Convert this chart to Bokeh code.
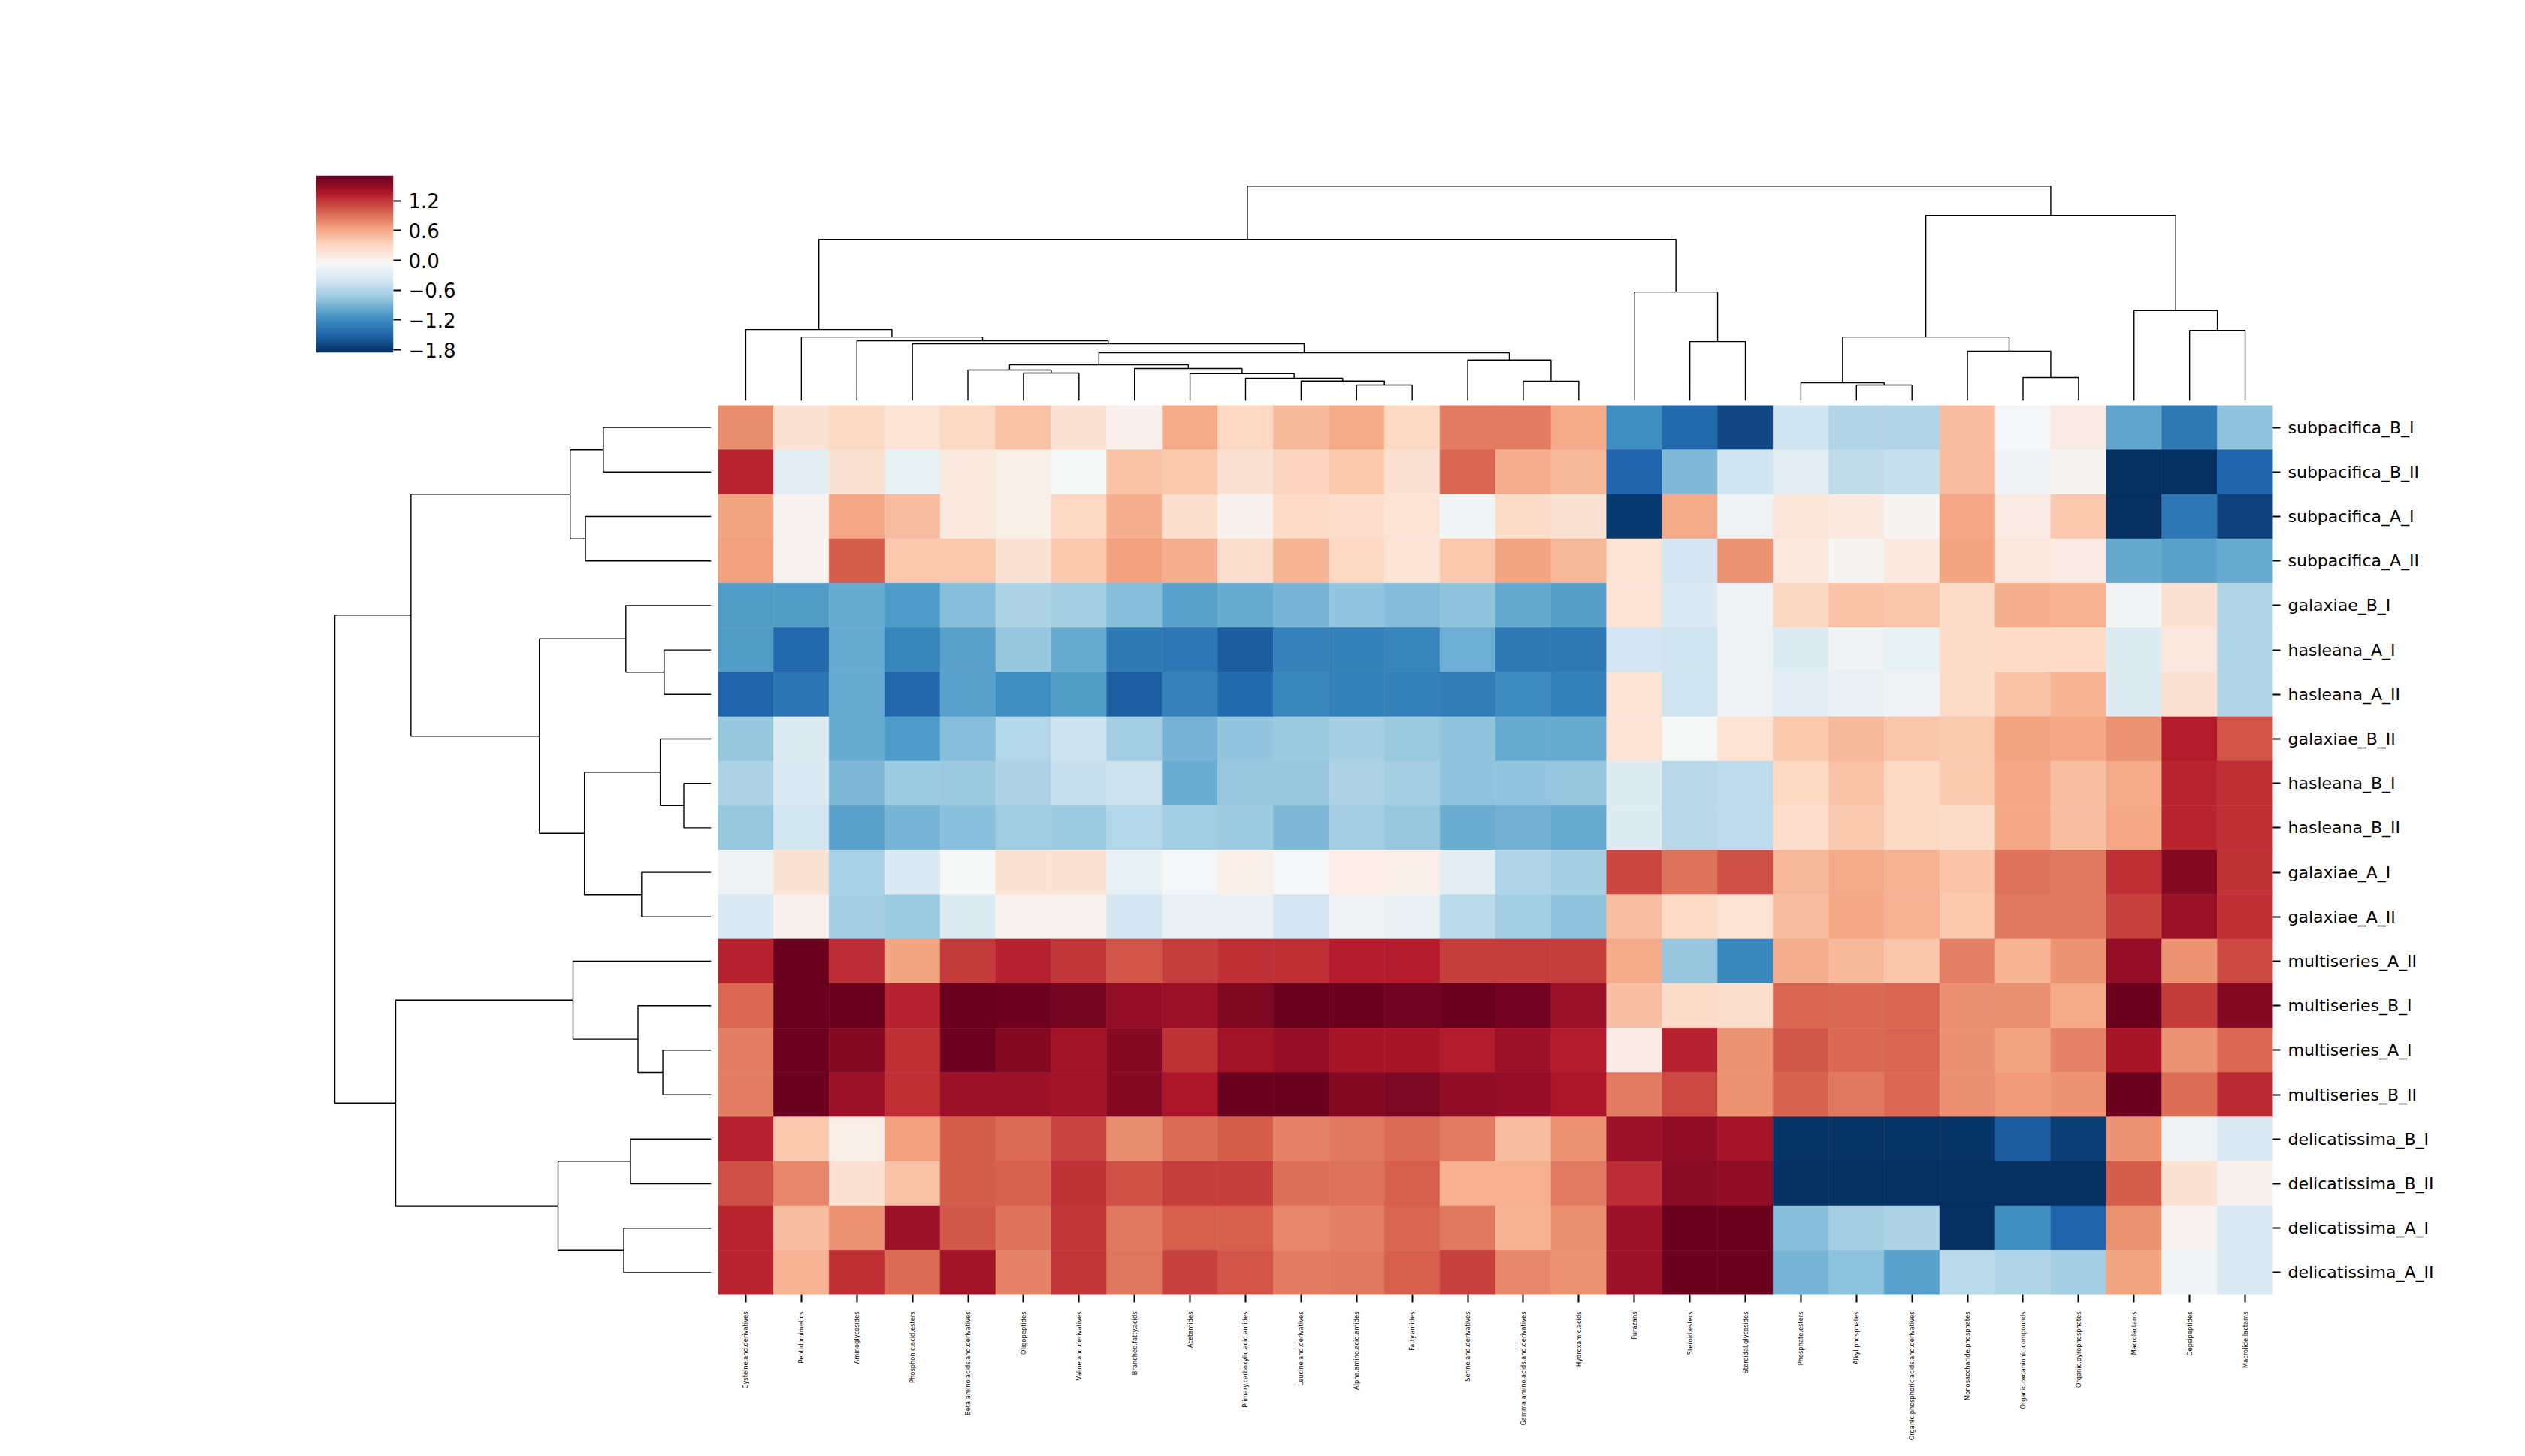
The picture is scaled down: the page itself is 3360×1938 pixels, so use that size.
import numpy as np
from bokeh.plotting import figure
from bokeh.models import ColumnDataSource, LinearColorMapper, Range1d, FactorRange, FixedTicker
from bokeh.layouts import row, column
from bokeh.transform import transform
from bokeh.embed import file_html
from bokeh.resources import INLINE

# ---------------- data ----------------
row_labels = ["subpacifica_B_I", "subpacifica_B_II", "subpacifica_A_I", "subpacifica_A_II",
              "galaxiae_B_I", "hasleana_A_I", "hasleana_A_II", "galaxiae_B_II",
              "hasleana_B_I", "hasleana_B_II", "galaxiae_A_I", "galaxiae_A_II",
              "multiseries_A_II", "multiseries_B_I", "multiseries_A_I", "multiseries_B_II",
              "delicatissima_B_I", "delicatissima_B_II", "delicatissima_A_I", "delicatissima_A_II"]

col_labels = ["Cysteine.and.derivatives", "Peptidomimetics", "Aminoglycosides", "Phosphonic.acid.esters",
              "Beta.amino.acids.and.derivatives", "Oligopeptides", "Valine.and.derivatives",
              "Branched.fatty.acids", "Acetamides", "Primary.carboxylic.acid.amides",
              "Leucine.and.derivatives", "Alpha.amino.acid.amides", "Fatty.amides",
              "Serine.and.derivatives", "Gamma.amino.acids.and.derivatives", "Hydroxamic.acids",
              "Furazans", "Steroid.esters", "Steroidal.glycosides", "Phosphate.esters",
              "Alkyl.phosphates", "Organic.phosphoric.acids.and.derivatives",
              "Monosaccharide.phosphates", "Organic.oxoanionic.compounds",
              "Organic.pyrophosphates", "Macrolactams", "Depsipeptides", "Macrolide.lactams"]

subpacifica_B_I = [0.75, 0.18, 0.30, 0.17, 0.30, 0.45, 0.20, 0.02, 0.60, 0.30, 0.50, 0.60, 0.30, 0.85,
                   0.85, 0.60, -1.19, -1.48, -1.68, -0.43, -0.61, -0.61, 0.47, -0.10, 0.07, -1.02, -1.35, -0.79]
subpacifica_B_II = [1.28, -0.27, 0.20, -0.22, 0.10, 0.03, -0.08, 0.45, 0.40, 0.20, 0.32, 0.40, 0.20, 0.97,
                    0.58, 0.52, -1.51, -0.86, -0.43, -0.26, -0.53, -0.48, 0.47, -0.14, -0.06, -1.85, -1.85, -1.51]
subpacifica_A_I = [0.64, -0.02, 0.62, 0.48, 0.10, 0.03, 0.30, 0.57, 0.22, 0.00, 0.28, 0.25, 0.17, -0.13,
                   0.26, 0.20, -1.78, 0.60, -0.15, 0.16, 0.10, -0.04, 0.62, 0.07, 0.40, -1.85, -1.36, -1.74]
subpacifica_A_II = [0.66, -0.02, 1.00, 0.40, 0.40, 0.18, 0.40, 0.66, 0.58, 0.22, 0.53, 0.30, 0.17, 0.40,
                    0.64, 0.52, 0.17, -0.40, 0.72, 0.12, -0.06, 0.10, 0.63, 0.12, 0.07, -0.99, -1.05, -0.98]
galaxiae_B_I = [-1.07, -1.07, -0.97, -1.08, -0.84, -0.62, -0.68, -0.84, -1.04, -0.97, -0.90, -0.78, -0.85, -0.79,
                -0.99, -1.06, 0.17, -0.34, -0.15, 0.31, 0.45, 0.42, 0.27, 0.58, 0.55, -0.12, 0.20, -0.61]
hasleana_A_I = [-1.07, -1.48, -0.97, -1.25, -1.04, -0.76, -0.98, -1.35, -1.37, -1.56, -1.28, -1.29, -1.26, -0.95,
                -1.35, -1.35, -0.40, -0.45, -0.15, -0.32, -0.15, -0.22, 0.27, 0.28, 0.28, -0.32, 0.12, -0.61]
hasleana_A_II = [-1.50, -1.38, -0.97, -1.49, -1.05, -1.18, -1.07, -1.55, -1.28, -1.46, -1.24, -1.30, -1.30, -1.32,
                 -1.20, -1.30, 0.17, -0.44, -0.15, -0.27, -0.20, -0.15, 0.27, 0.45, 0.53, -0.30, 0.20, -0.61]
galaxiae_B_II = [-0.76, -0.32, -0.97, -1.08, -0.84, -0.60, -0.46, -0.69, -0.92, -0.78, -0.74, -0.67, -0.74, -0.79,
                 -0.97, -0.98, 0.17, -0.08, 0.17, 0.40, 0.50, 0.42, 0.39, 0.64, 0.61, 0.73, 1.33, 1.05]
hasleana_B_I = [-0.62, -0.33, -0.88, -0.72, -0.74, -0.63, -0.48, -0.46, -0.96, -0.75, -0.75, -0.62, -0.68, -0.79,
                -0.78, -0.76, -0.30, -0.57, -0.54, 0.30, 0.45, 0.30, 0.39, 0.61, 0.46, 0.60, 1.28, 1.23]
hasleana_B_II = [-0.75, -0.42, -1.04, -0.90, -0.82, -0.71, -0.72, -0.60, -0.69, -0.72, -0.87, -0.68, -0.75, -0.96,
                 -0.93, -0.98, -0.30, -0.57, -0.54, 0.25, 0.40, 0.30, 0.27, 0.61, 0.46, 0.61, 1.28, 1.23]
galaxiae_A_I = [-0.15, 0.18, -0.66, -0.35, -0.08, 0.20, 0.18, -0.22, -0.10, 0.03, -0.10, 0.06, 0.04, -0.27,
                -0.61, -0.67, 1.12, 0.90, 1.08, 0.52, 0.60, 0.55, 0.44, 0.90, 0.86, 1.23, 1.56, 1.22]
galaxiae_A_II = [-0.35, 0.00, -0.68, -0.72, -0.32, -0.02, -0.02, -0.40, -0.20, -0.20, -0.40, -0.14, -0.20, -0.55,
                 -0.69, -0.80, 0.46, 0.28, 0.17, 0.48, 0.61, 0.54, 0.40, 0.87, 0.86, 1.15, 1.46, 1.23]
multiseries_A_II = [1.30, 1.69, 1.24, 0.63, 1.18, 1.30, 1.20, 1.05, 1.16, 1.23, 1.23, 1.32, 1.33, 1.16,
                    1.16, 1.16, 0.60, -0.77, -1.22, 0.57, 0.50, 0.42, 0.82, 0.53, 0.73, 1.49, 0.73, 1.10]
multiseries_B_I = [0.95, 1.69, 1.69, 1.30, 1.69, 1.67, 1.64, 1.50, 1.46, 1.59, 1.69, 1.69, 1.66, 1.69,
                   1.65, 1.45, 0.46, 0.27, 0.24, 0.97, 0.95, 0.97, 0.74, 0.74, 0.60, 1.69, 1.17, 1.56]
multiseries_A_I = [0.84, 1.67, 1.56, 1.23, 1.67, 1.56, 1.42, 1.55, 1.22, 1.42, 1.50, 1.39, 1.39, 1.32,
                   1.45, 1.33, 0.07, 1.30, 0.73, 1.03, 0.95, 0.97, 0.74, 0.64, 0.81, 1.39, 0.73, 0.95]
multiseries_B_II = [0.84, 1.69, 1.45, 1.23, 1.45, 1.45, 1.42, 1.56, 1.38, 1.69, 1.69, 1.56, 1.60, 1.51,
                    1.50, 1.38, 0.85, 1.10, 0.73, 0.98, 0.87, 0.95, 0.74, 0.69, 0.73, 1.69, 0.92, 1.27]
delicatissima_B_I = [1.30, 0.40, 0.03, 0.66, 1.00, 0.94, 1.13, 0.76, 0.94, 1.00, 0.81, 0.87, 0.94, 0.85,
                     0.48, 0.73, 1.45, 1.51, 1.41, -1.82, -1.82, -1.82, -1.82, -1.56, -1.77, 0.73, -0.15, -0.34]
delicatissima_B_II = [1.07, 0.79, 0.20, 0.45, 1.00, 0.98, 1.22, 1.06, 1.16, 1.16, 0.91, 0.89, 0.99, 0.56,
                      0.56, 0.85, 1.24, 1.53, 1.51, -1.85, -1.85, -1.85, -1.85, -1.85, -1.85, 1.00, 0.20, 0.00]
delicatissima_A_I = [1.28, 0.48, 0.73, 1.45, 1.04, 0.89, 1.20, 0.86, 0.99, 0.99, 0.80, 0.82, 0.97, 0.87,
                     0.55, 0.74, 1.45, 1.69, 1.69, -0.84, -0.68, -0.63, -1.85, -1.19, -1.51, 0.73, -0.02, -0.34]
delicatissima_A_II = [1.28, 0.55, 1.23, 0.93, 1.42, 0.81, 1.20, 0.88, 1.15, 1.05, 0.85, 0.87, 0.99, 1.15,
                      0.79, 0.73, 1.45, 1.69, 1.69, -0.90, -0.81, -1.05, -0.56, -0.61, -0.68, 0.65, -0.12, -0.34]

VMIN, VMAX = -1.86, 1.71
cbar_ticks = [-1.8, -1.2, -0.6, 0.0, 0.6, 1.2]

# linkage merges (a, b, height): leaves 0..n-1, cluster n+k is the k-th merge
col_merges = [(11, 12, 63), (10, 28, 79), (9, 29, 90), (8, 30, 109), (7, 31, 129),
              (5, 6, 111), (4, 33, 123), (34, 32, 144), (14, 15, 78), (13, 36, 163),
              (35, 37, 192), (3, 38, 228), (2, 39, 240), (1, 40, 255), (0, 41, 285),
              (17, 18, 237), (16, 43, 435), (42, 44, 645), (20, 21, 63), (19, 46, 72),
              (23, 24, 93), (22, 48, 198), (47, 49, 255), (26, 27, 282), (25, 51, 361),
              (50, 52, 741), (45, 53, 858)]
row_merges = [(0, 1, 417), (2, 3, 486), (20, 21, 545), (5, 6, 182), (4, 23, 330),
              (8, 9, 106), (7, 25, 197), (10, 11, 269), (26, 27, 490), (24, 28, 664),
              (22, 29, 1160), (14, 15, 187), (13, 31, 283), (12, 32, 534), (16, 17, 312),
              (18, 19, 338), (34, 35, 592), (33, 36, 1219), (30, 37, 1454)]

# ---------------- helpers ----------------
matrix = [subpacifica_B_I, subpacifica_B_II, subpacifica_A_I, subpacifica_A_II,
          galaxiae_B_I, hasleana_A_I, hasleana_A_II, galaxiae_B_II,
          hasleana_B_I, hasleana_B_II, galaxiae_A_I, galaxiae_A_II,
          multiseries_A_II, multiseries_B_I, multiseries_A_I, multiseries_B_II,
          delicatissima_B_I, delicatissima_B_II, delicatissima_A_I, delicatissima_A_II]

anchors = ["#053061", "#2166ac", "#4393c3", "#92c5de", "#d1e5f0", "#f7f7f7",
           "#fddbc7", "#f4a582", "#d6604d", "#b2182b", "#67001f"]
A = np.array([[int(h[i:i + 2], 16) for i in (1, 3, 5)] for h in anchors], float)
tt = np.linspace(0, 1, 256)
pp = np.linspace(0, 1, len(anchors))
palette = ["#%02x%02x%02x" % tuple(int(round(np.interp(t, pp, A[:, c]))) for c in range(3)) for t in tt]
mapper = LinearColorMapper(palette=palette, low=VMIN, high=VMAX)


def dendro_segments(n, merges):
    pos = {i: i + 0.5 for i in range(n)}
    hgt = {i: 0.0 for i in range(n)}
    P, H = [], []
    for k, (a, b, h) in enumerate(merges):
        P.append([pos[a], pos[a], pos[b], pos[b]])
        H.append([hgt[a], h, h, hgt[b]])
        pos[n + k] = (pos[a] + pos[b]) / 2.0
        hgt[n + k] = h
    return P, H


FONT = "DejaVu Sans"
OFF = 8          # page margin compensation
LEFT_W = 942 + OFF
TOP_H = 528 + OFF
HM_W, HM_H = 2069, 1184


def base_fig(**kw):
    p = figure(toolbar_location=None, output_backend="svg", outline_line_color=None,
               background_fill_color="white", border_fill_color="white", **kw)
    p.grid.visible = False
    return p


# ---------------- colorbar ----------------
cb = base_fig(x_range=Range1d(0, 1), y_range=Range1d(VMIN, VMAX),
              frame_width=103, frame_height=236,
              min_border_left=412 + OFF, min_border_right=LEFT_W - 412 - OFF - 103,
              min_border_top=225 + OFF, min_border_bottom=TOP_H - 225 - OFF - 236,
              x_axis_location=None, y_axis_location="right")
grad = np.linspace(VMIN, VMAX, 512).reshape(512, 1)
cb.image(image=[grad], x=0, y=VMIN, dw=1, dh=VMAX - VMIN, color_mapper=mapper)
cb.yaxis.ticker = FixedTicker(ticks=cbar_ticks)
cb.yaxis.major_label_overrides = {t: ("%.1f" % t).replace("-", "\u2212") for t in cbar_ticks}
cb.yaxis.axis_line_color = None
cb.yaxis.minor_tick_line_color = None
cb.yaxis.major_tick_in = 0
cb.yaxis.major_tick_out = 10
cb.yaxis.major_tick_line_width = 2
cb.yaxis.major_tick_line_color = "black"
cb.yaxis.major_label_standoff = 10
cb.yaxis.major_label_text_font = FONT
cb.yaxis.major_label_text_font_size = "26px"
cb.yaxis.major_label_text_color = "black"

# ---------------- column dendrogram ----------------
ncol = len(col_labels)
cx, ch = dendro_segments(ncol, col_merges)
cmax = max(m[2] for m in col_merges)
cd = base_fig(x_range=Range1d(0, ncol), y_range=Range1d(0, cmax * 1.05),
              frame_width=HM_W, frame_height=300,
              min_border_left=5, min_border_right=328, min_border_top=225 + OFF, min_border_bottom=3,
              x_axis_location=None, y_axis_location=None)
cd.multi_line(xs=cx, ys=ch, line_color="black", line_width=1.4)

# ---------------- row dendrogram ----------------
nrow = len(row_labels)
ry, rh = dendro_segments(nrow, row_merges)
rmax = max(m[2] for m in row_merges)
rd = base_fig(x_range=Range1d(rmax * 1.05, 0), y_range=Range1d(nrow, 0),
              frame_width=526, frame_height=HM_H,
              min_border_left=412 + OFF, min_border_right=4, min_border_top=3, min_border_bottom=207,
              x_axis_location=None, y_axis_location=None)
rd.multi_line(xs=rh, ys=ry, line_color="black", line_width=1.4)

# ---------------- heatmap ----------------
xs, ys, vs = [], [], []
for rname, vals in zip(row_labels, matrix):
    for cname, v in zip(col_labels, vals):
        xs.append(cname)
        ys.append(rname)
        vs.append(v)
src = ColumnDataSource(dict(x=xs, y=ys, v=vs))

hm = base_fig(x_range=FactorRange(*col_labels), y_range=FactorRange(*row_labels[::-1]),
              frame_width=HM_W, frame_height=HM_H,
              min_border_left=5, min_border_right=328, min_border_top=3, min_border_bottom=207,
              x_axis_location="below", y_axis_location="right")
hm.rect(x="x", y="y", width=1, height=1, source=src,
        fill_color=transform("v", mapper), line_color=transform("v", mapper), line_width=0.6)

for ax in (hm.xaxis[0], hm.yaxis[0]):
    ax.axis_line_color = None
    ax.major_tick_in = 0
    ax.major_tick_out = 10
    ax.major_tick_line_width = 2
    ax.major_tick_line_color = "black"
    ax.minor_tick_line_color = None
    ax.major_label_text_font = FONT
    ax.major_label_text_color = "black"
hm.xaxis.major_label_orientation = np.pi / 2
hm.xaxis.major_label_text_font_size = "8.3px"
hm.xaxis.major_label_standoff = 12
hm.yaxis.major_label_text_font_size = "22px"
hm.yaxis.major_label_standoff = 10

layout = column(row(cb, cd), row(rd, hm))
open("out.html", "w").write(file_html(layout, INLINE))
